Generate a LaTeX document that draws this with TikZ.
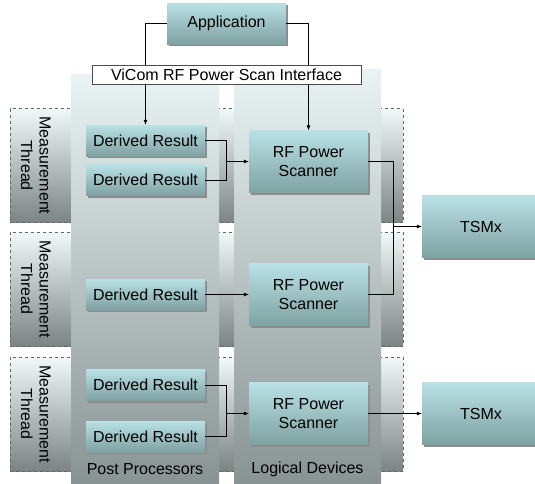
\documentclass[tikz,border=0pt]{standalone}
\usepackage{fontspec}
\setmainfont{Liberation Sans}
\usepackage{xcolor}
\usetikzlibrary{shadows,arrows.meta,positioning,calc}
\definecolor{boxtop}{HTML}{B9E1E5}
\definecolor{boxbot}{HTML}{7FA1A2}
\definecolor{coltop}{HTML}{E9F3F3}
\definecolor{colbot}{HTML}{8A9393}
\definecolor{bandtop}{HTML}{F0F8F8}
\definecolor{bandbot}{HTML}{7B8383}

\begin{document}
\begin{tikzpicture}[x=1pt, y=-1pt, >={Latex[length=5pt,width=4pt]}, font=\fontsize{16}{18.5}\selectfont]
        % Style definitions
        \tikzset{
            block/.style={rectangle, top color=boxtop, bottom color=boxbot, minimum width=119pt, minimum height=31pt, inner sep=0pt, align=center, drop shadow={shadow xshift=2pt, shadow yshift=-2pt, fill=black!45, opacity=1}},
            scanner/.style={block, minimum height=62pt},
            band/.style={rectangle, draw=black!60, dashed, line width=0.5pt, top color=bandtop, bottom color=bandbot, minimum width=393pt, minimum height=114pt, inner sep=0pt},
            column/.style={rectangle, top color=coltop, bottom color=colbot, minimum width=148pt, inner sep=0pt},
            iface/.style={rectangle, draw=black!70, fill=white, line width=0.6pt, minimum width=269pt, minimum height=19pt, inner sep=0pt},
            thread/.style={rotate=-90, align=center},
            conn/.style={line width=0.7pt}
        }

        % Measurement threads and columns
        \node [band] (t1) at (206.5,165.5) {};
        \node [band] (t2) at (206.5,289) {};
        \node [band] (t3) at (206.5,414) {};
        \node [column, minimum height=409pt] (pp) at (145,278.5) {};
        \node [column, minimum height=414pt, minimum width=147pt] (ld) at (307.5,276) {};
        \node [thread] (th1) at ($(t1.west)+(26,0)$) {Measurement\\Thread};
        \node [thread] (th2) at ($(t2.west)+(26,0)$) {Measurement\\Thread};
        \node [thread] (th3) at ($(t3.west)+(26,0)$) {Measurement\\Thread};
        \node (pplabel) at (145,469) {Post Processors};
        \node (ldlabel) at (307.5,469) {Logical Devices};

        % Nodes
        \node [block, minimum height=41pt] (app) at (226.5,23.5) {Application};
        \node [iface] (iface) at (226.5,74.5) {ViCom RF Power Scan Interface};
        \node [block] (d1) at (145.5,140.5) {Derived Result};
        \node [block] (d2) at (145.5,180) {Derived Result};
        \node [block] (d3) at (145.5,294.5) {Derived Result};
        \node [block] (d4) at (145.5,385) {Derived Result};
        \node [block] (d5) at (145.5,436.5) {Derived Result};
        \node [scanner] (s1) at (308.5,161.5) {RF Power\\Scanner};
        \node [scanner] (s2) at (308.5,294.5) {RF Power\\Scanner};
        \node [scanner] (s3) at (308.5,413.5) {RF Power\\Scanner};
        \node [scanner, minimum width=118pt] (x1) at (481,226.5) {TSMx};
        \node [scanner, minimum width=118pt] (x2) at (481,413.5) {TSMx};

        % Connections
        \draw [conn] (app.west) -| (d1 |- iface.north);
        \draw [conn] (app.east) -| (s1 |- iface.north);
        \draw [conn, ->] (d1 |- iface.south) -- (d1.north);
        \draw [conn, ->] (s1 |- iface.south) -- (s1.north);

        \path (s1.west) ++(-22,0) coordinate (j1);
        \draw [conn] (d1.east) -| (j1);
        \draw [conn] (d2.east) -| (j1);
        \draw [conn, ->] (j1) -- (s1.west);
        \draw [conn, ->] (d3.east) -- (s2.west);
        \path (s3.west) ++(-22,0) coordinate (j3);
        \draw [conn] (d4.east) -| (j3);
        \draw [conn] (d5.east) -| (j3);
        \draw [conn, ->] (j3) -- (s3.west);

        \path (x1.west) ++(-28,0) coordinate (k1);
        \draw [conn] (s1.east) -| (k1);
        \draw [conn] (s2.east) -| (k1);
        \draw [conn, ->] (k1) -- (x1.west);
        \draw [conn, ->] (s3.east) -- (x2.west);

        \pgfresetboundingbox
        \useasboundingbox (0,0) rectangle (535,483);
    \end{tikzpicture}
\end{document}
